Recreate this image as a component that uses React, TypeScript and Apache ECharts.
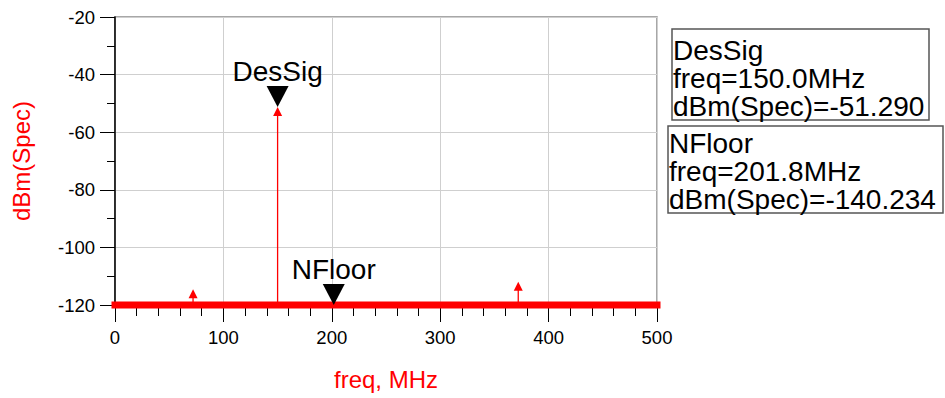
import React, { useEffect, useRef } from 'react';
import * as echarts from 'echarts';

// ---- data ----
const X_MIN = 0;
const X_MAX = 500;
const X_INTERVAL = 100;
const Y_MIN = -120;
const Y_MAX = -20;
const Y_INTERVAL = 20;

// noise floor (true values ~ -140 dBm, shown clipped at the axis bottom)
const floorFreqs = [0, 500];
const floorLevels = [-140, -140];

// spectral lines (freq MHz, dBm)
const spikeFreqs = [72, 150, 372];
const spikeLevels = [-114.5, -51.29, -111.9];

// markers
const markerNames = ['DesSig', 'NFloor'];
const markerFreqs = [150.0, 201.8];
const markerLevels = [-51.29, -140.234];

const FONT = '"Liberation Sans", Arial, sans-serif';

export default function App() {
  const ref = useRef<HTMLDivElement>(null);

  useEffect(() => {
    if (!ref.current) return;
    const chart = echarts.init(ref.current, null, { renderer: 'svg' });

    const clip = (v: number) => Math.max(v, Y_MIN);
    const floorData = floorFreqs.map((f, i) => [f, clip(floorLevels[i])]);
    const spikeData = spikeFreqs.map((f, i) => [f, spikeLevels[i]]);
    const markerData = markerNames.map((n, i) => ({
      name: n,
      value: [markerFreqs[i], clip(markerLevels[i])],
    }));

    const boxes = [
      { x: 672, y: 29, w: 257, h: 91, tx: 673, ty: 36 },
      { x: 668, y: 126, w: 275, h: 87, tx: 669, ty: 129 },
    ];
    const graphic: any[] = [];
    markerNames.forEach((n, i) => {
      const b = boxes[i];
      graphic.push({
        type: 'rect',
        shape: { x: b.x, y: b.y, width: b.w, height: b.h },
        style: { fill: '#ffffff', stroke: '#555555', lineWidth: 1.5 },
        z: 10,
      });
      graphic.push({
        type: 'text',
        x: b.tx,
        y: b.ty,
        z: 11,
        style: {
          text: [
            n,
            `freq=${markerFreqs[i].toFixed(1)}MHz`,
            `dBm(Spec)=${markerLevels[i].toFixed(3)}`,
          ].join('\n'),
          font: `28px ${FONT}`,
          lineHeight: 28,
          fill: '#000000',
          verticalAlign: 'top',
        },
      });
    });

    chart.setOption({
      animation: false,
      grid: {
        left: 115,
        top: 17,
        right: 288,
        bottom: 93,
        show: true,
        borderColor: '#8a8a8a',
        borderWidth: 1.5,
        backgroundColor: 'transparent',
      },
      xAxis: {
        type: 'value',
        min: X_MIN,
        max: X_MAX,
        interval: X_INTERVAL,
        name: 'freq, MHz',
        nameLocation: 'middle',
        nameGap: 62,
        nameTextStyle: { color: '#ff0000', fontSize: 24, fontFamily: FONT },
        axisLine: { show: false },
        axisTick: { show: true, length: 17, lineStyle: { color: '#000', width: 1 } },
        minorTick: { show: true, splitNumber: 5, length: 11, lineStyle: { color: '#000', width: 1 } },
        axisLabel: { color: '#000', fontSize: 18.5, fontFamily: FONT, margin: 23 },
        splitLine: { show: true, lineStyle: { color: '#cfcfcf', width: 1 } },
      },
      yAxis: {
        type: 'value',
        min: Y_MIN,
        max: Y_MAX,
        interval: Y_INTERVAL,
        name: 'dBm(Spec)',
        nameLocation: 'middle',
        nameGap: 82,
        nameTextStyle: { color: '#ff0000', fontSize: 24, fontFamily: FONT },
        axisLine: { show: true, lineStyle: { color: '#000', width: 1.5 } },
        axisTick: { show: true, length: 15, lineStyle: { color: '#000', width: 1 } },
        minorTick: { show: true, splitNumber: 2, length: 8, lineStyle: { color: '#000', width: 1 } },
        axisLabel: { color: '#000', fontSize: 18.5, fontFamily: FONT, margin: 20 },
        splitLine: { show: true, lineStyle: { color: '#cfcfcf', width: 1 } },
      },
      graphic,
      series: [
        {
          type: 'line',
          data: floorData,
          symbol: 'none',
          clip: false,
          lineStyle: { color: '#ff0000', width: 7, cap: 'square' },
          z: 3,
        },
        {
          type: 'custom',
          data: spikeData,
          clip: false,
          z: 4,
          renderItem: (params: any, api: any) => {
            const f = api.value(0);
            const v = api.value(1);
            const top = api.coord([f, v]);
            const base = api.coord([f, Y_MIN]);
            return {
              type: 'group',
              children: [
                {
                  type: 'line',
                  shape: { x1: top[0], y1: top[1] + 6, x2: base[0], y2: base[1] },
                  style: { stroke: '#ff0000', lineWidth: 1.3 },
                },
                {
                  type: 'polygon',
                  shape: {
                    points: [
                      [top[0], top[1]],
                      [top[0] - 4.5, top[1] + 9],
                      [top[0] + 4.5, top[1] + 9],
                    ],
                  },
                  style: { fill: '#ff0000' },
                },
              ],
            };
          },
        },
        {
          type: 'scatter',
          data: markerData,
          clip: false,
          z: 6,
          symbol: 'path://M0 0 L20 0 L10 20 Z',
          symbolSize: [22, 21],
          symbolOffset: [0, '-50%'],
          itemStyle: { color: '#000000', opacity: 1 },
          label: {
            show: true,
            position: 'top',
            distance: 1,
            formatter: '{b}',
            fontSize: 28,
            fontFamily: FONT,
            color: '#000000',
          },
        },
      ],
    });

    return () => chart.dispose();
  }, []);

  return (
    <div
      ref={ref}
      style={{ position: 'absolute', left: 0, top: 0, width: 945, height: 398 }}
    />
  );
}
